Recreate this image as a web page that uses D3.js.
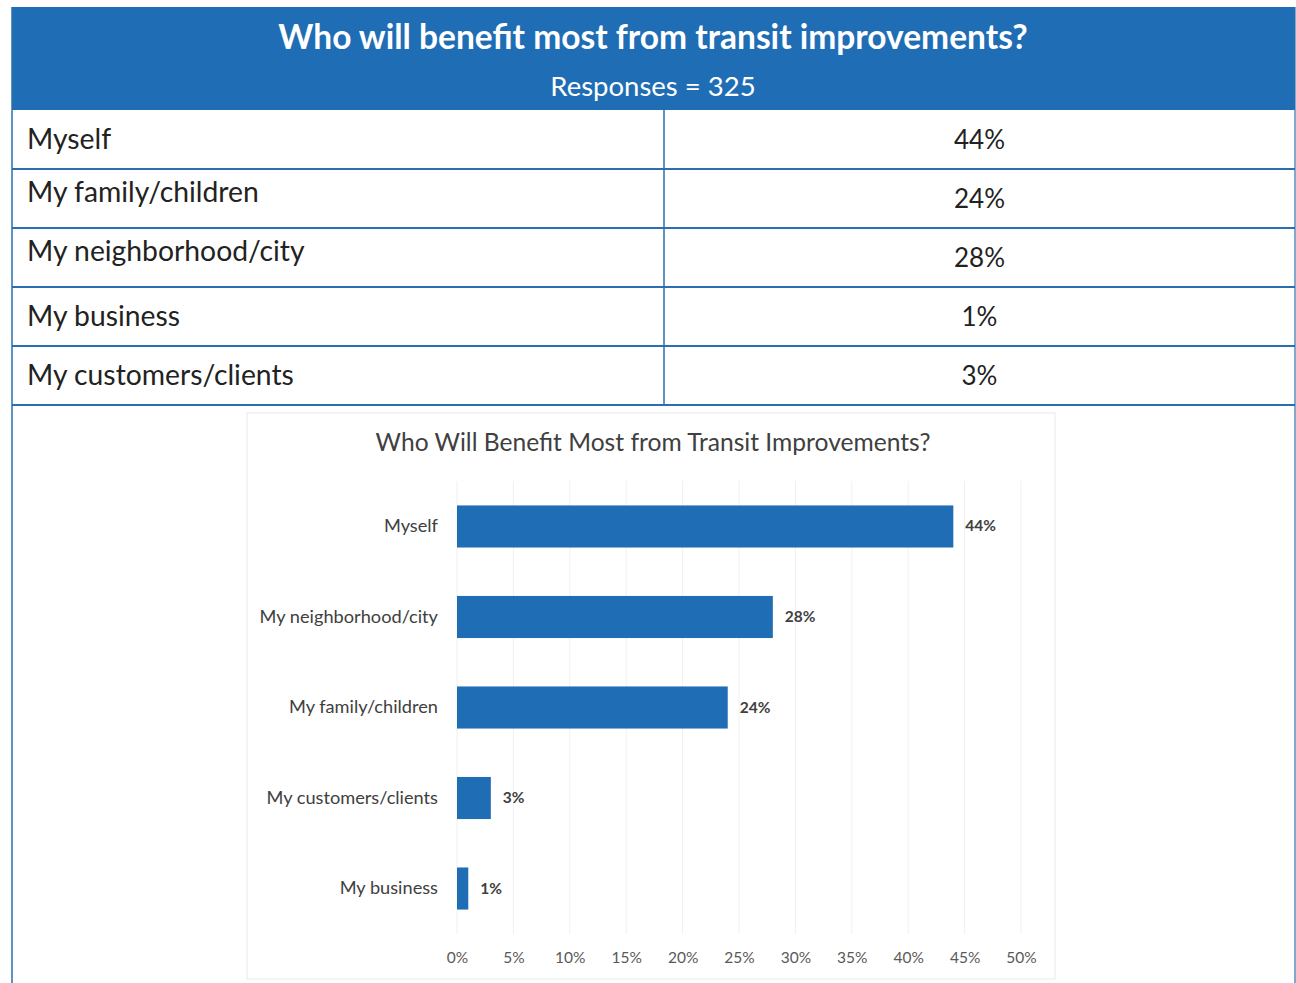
<!DOCTYPE html>
<html><head><meta charset="utf-8">
<script src="https://cdn.jsdelivr.net/npm/d3@7"></script>
<style>
html,body{margin:0;padding:0;background:#fff;}
svg{display:block;}
</style></head>
<body>
<svg id="c" width="1296" height="983"></svg>
<script>
// ---- data ----
const headerTitle = "Who will benefit most from transit improvements?";
const headerSub = "Responses = 325";
const tableLabels = ["Myself", "My family/children", "My neighborhood/city", "My business", "My customers/clients"];
const tableValues = [44, 24, 28, 1, 3];
const chartTitle = "Who Will Benefit Most from Transit Improvements?";
const chartCategories = ["Myself", "My neighborhood/city", "My family/children", "My customers/clients", "My business"];
const chartValues = [44, 28, 24, 3, 1];
const tickValues = [0, 5, 10, 15, 20, 25, 30, 35, 40, 45, 50];

const blue = "#1f6db4";
const svg = d3.select("#c");
const font = "Lato, 'Open Sans', sans-serif";

// ---- header ----
const frameL = 12, frameR = 1295, headTop = 7, headBot = 110;
svg.append("rect").attr("x", frameL).attr("y", headTop).attr("width", frameR - frameL).attr("height", headBot - headTop).attr("fill", blue);
svg.append("text").attr("x", 653).attr("y", 49).attr("text-anchor", "middle")
  .attr("font-family", font).attr("font-weight", "bold").attr("font-size", 33.5).attr("fill", "#fff").text(headerTitle);
svg.append("text").attr("x", 653).attr("y", 96).attr("text-anchor", "middle")
  .attr("font-family", font).attr("font-size", 27.5).attr("fill", "#fff").text(headerSub);

// ---- table ----
const rowY = d3.scaleBand().domain(d3.range(tableLabels.length)).range([headBot, 405]);
const colSplit = 664;
const tbl = svg.append("g");
tableLabels.forEach((lab, i) => {
  const y0 = rowY(i), h = rowY.bandwidth();
  tbl.append("text").attr("x", 27).attr("y", y0 + h / 2 + 9 - (i === 1 || i === 2 ? 6 : 0))
    .attr("font-family", font).attr("font-size", 28.3).attr("fill", "#222").text(lab);
  tbl.append("text").attr("x", (colSplit + frameR) / 2).attr("y", y0 + h / 2 + 9)
    .attr("text-anchor", "middle").attr("font-family", font).attr("font-size", 26).attr("fill", "#222")
    .text(tableValues[i] + "%");
  tbl.append("line").attr("x1", frameL).attr("x2", frameR).attr("y1", y0 + h).attr("y2", y0 + h)
    .attr("stroke", "#2a6fb0").attr("stroke-width", 2);
});
tbl.append("line").attr("x1", colSplit).attr("x2", colSplit).attr("y1", headBot).attr("y2", 405)
  .attr("stroke", "#2a6fb0").attr("stroke-width", 1.5);
// outer frame sides
svg.append("line").attr("x1", frameL).attr("x2", frameL).attr("y1", headTop).attr("y2", 983).attr("stroke", "#2a6fb0").attr("stroke-width", 1.5);
svg.append("line").attr("x1", frameR).attr("x2", frameR).attr("y1", headTop).attr("y2", 983).attr("stroke", "#2a6fb0").attr("stroke-width", 1.2);

// ---- chart ----
svg.append("rect").attr("x", 247).attr("y", 413).attr("width", 808).attr("height", 566)
  .attr("fill", "none").attr("stroke", "#e8e8e8").attr("stroke-width", 1);
svg.append("text").attr("x", 653).attr("y", 451).attr("text-anchor", "middle")
  .attr("font-family", font).attr("font-size", 24.6).attr("fill", "#404040").text(chartTitle);

const x = d3.scaleLinear().domain([0, 50]).range([457, 1021]);
const y = d3.scaleBand().domain(chartCategories).range([481, 934]).paddingInner(0.535).paddingOuter(0.27);

// gridlines
svg.append("g").selectAll("line").data(tickValues).join("line")
  .attr("x1", d => x(d)).attr("x2", d => x(d)).attr("y1", 481).attr("y2", 934)
  .attr("stroke", "#f0f0f0").attr("stroke-width", 1);

// bars
svg.append("g").selectAll("rect").data(chartCategories).join("rect")
  .attr("x", x(0)).attr("y", d => y(d)).attr("height", y.bandwidth())
  .attr("width", (d, i) => x(chartValues[i]) - x(0)).attr("fill", blue);

// value labels
svg.append("g").selectAll("text").data(chartCategories).join("text")
  .attr("x", (d, i) => x(chartValues[i]) + 12).attr("y", d => y(d) + y.bandwidth() / 2 + 5)
  .attr("font-family", font).attr("font-weight", "bold").attr("font-size", 15.5).attr("fill", "#404040")
  .text((d, i) => chartValues[i] + "%");

// category axis
const yAxis = svg.append("g").attr("transform", `translate(${x(0) - 8},0)`)
  .call(d3.axisLeft(y).tickSize(0).tickPadding(11));
yAxis.select(".domain").remove();
yAxis.selectAll("text").attr("font-family", font).attr("font-size", 18.2).attr("fill", "#404040");

// value axis
const xAxis = svg.append("g").attr("transform", "translate(0,949)")
  .call(d3.axisBottom(x).tickValues(tickValues).tickSize(0).tickFormat(d => d + "%"));
xAxis.select(".domain").remove();
xAxis.selectAll("text").attr("font-family", font).attr("font-size", 15.5).attr("fill", "#595959");
</script>
</body></html>
